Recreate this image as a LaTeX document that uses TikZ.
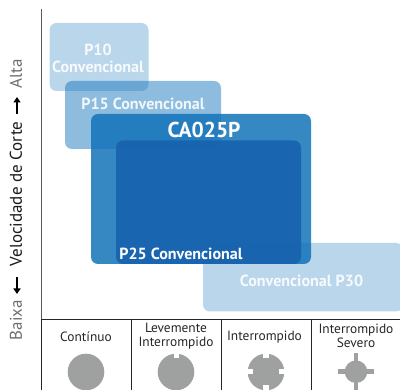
\documentclass[tikz,border=0pt]{standalone}
\usepackage{fontspec}
\setmainfont{PT Sans}
\usetikzlibrary{arrows.meta}
\definecolor{brandblue}{HTML}{0F71B8}
\definecolor{deepblue}{HTML}{1763AE}
\definecolor{markgray}{HTML}{9FA1A0}
\definecolor{axisgray}{HTML}{58595B}
\definecolor{softgray}{HTML}{6D6E71}
\tikzset{
  x=1pt,y=-1pt,
  zone/.style={fill=brandblue,rounded corners=7pt,draw=none},
  zonelabel/.style={text=white,font=\bfseries\fontsize{16.1}{16.5}\selectfont,align=center,inner sep=0pt,opacity=.88},
  headlabel/.style={text=black!85,font=\fontsize{13.4}{14.5}\selectfont,align=center,inner sep=0pt},
  sidelabel/.style={rotate=90,inner sep=0pt,font=\fontsize{17}{18}\selectfont},
  sidearrow/.style={line width=2pt,black,-{Triangle[length=5.5pt,width=7pt]}},
  frameline/.style={line width=.9pt,black!85},
  graymark/.style={fill=markgray,draw=none}
}
\begin{document}
\begin{tikzpicture}
\useasboundingbox (0,0) rectangle (400,390);
% zones
\fill[zone,opacity=.29] (203,243) rectangle (403,311.5);
\fill[zone,opacity=.29] (49.5,23) rectangle (148.5,91);
\fill[zone,opacity=.47] (65,81) rectangle (221,149);
\fill[zone,opacity=.84] (91,114) rectangle (311,264);
\fill[zone,fill=deepblue,opacity=.92] (116,140.5) rectangle (301,264);
% labels
\node[zonelabel] (p10) at (98,58.5) {P10\\[0pt]Convencional};
\node[zonelabel] (p15) at (143,104) {P15 Convencional};
\node[zonelabel,opacity=1,font=\bfseries\fontsize{21.5}{22}\selectfont] (ca) at (204,129.5) {CA025P};
\node[zonelabel,opacity=1] (p25) at (181,253.5) {P25 Convencional};
\node[zonelabel] (p30) at (301.5,281) {Convencional P30};
% axes
\draw[line width=.9pt,axisgray] (41.5,9) -- (41.5,319);
\draw[frameline] (41.5,319) -- (41.5,390);
\draw[frameline] (41,319) -- (400,319);
\foreach \xx in {131.5,221.5,311.5} \draw[frameline] (\xx,319) -- (\xx,390);
% side text
\node[sidelabel,text=softgray] (baixa) at (16,320) {Baixa};
\node[sidelabel,text=black!90] (vel) at (16,194) {Velocidade de Corte};
\node[sidelabel,text=softgray] (alta) at (16,74) {Alta};
\coordinate (d1) at (17,277);
\coordinate (d2) at (17,294);
\coordinate (u1) at (17,114);
\coordinate (u2) at (17,97);
\draw[sidearrow] (d1) -- (d2);
\draw[sidearrow] (u1) -- (u2);
% column heads
\node[headlabel] (h1) at (86,337) {Contínuo};
\node[headlabel] (h2) at (176,336) {Levemente\\Interrompido};
\node[headlabel] (h3) at (264.5,337) {Interrompido};
\node[headlabel] (h4) at (356,336) {Interrompido\\Severo};
% marks
\fill[graymark] (86,372) circle (18.3);
\fill[graymark] (176,372) circle (18.3);
\fill[white] (174,352) rectangle (179.3,358.5);
\fill[graymark] (266,372) circle (18.3);
\fill[white] (263.3,352) rectangle (268.5,358.5);
\fill[white] (263.3,385.5) rectangle (268.5,392);
\fill[white] (246,369.5) rectangle (253,374.3);
\fill[white] (279,369.5) rectangle (286,374.3);
\fill[graymark] (356,371.7) circle (11.3);
\fill[graymark] (337.7,369.3) rectangle (374,374);
\fill[graymark] (353.6,353.5) rectangle (358.4,390);
\end{tikzpicture}
\end{document}
